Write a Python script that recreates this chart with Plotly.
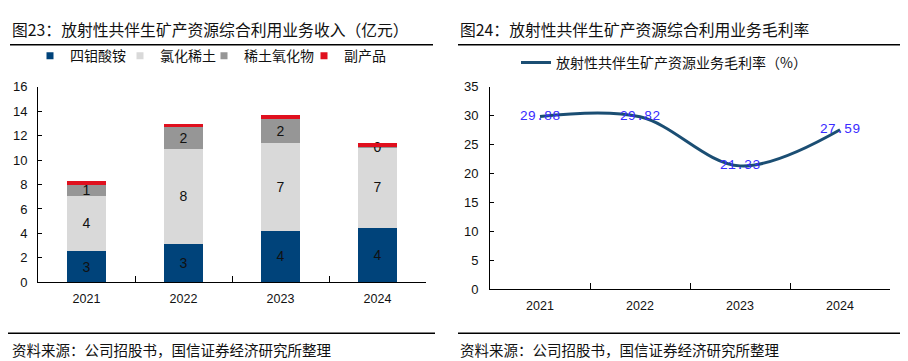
import plotly.graph_objects as go

W, H = 908, 361

# ---------------- data ----------------
years = ["2021", "2022", "2023", "2024"]
ammonium_tetramolybdate = [2.59, 3.14, 4.24, 4.47]
rare_earth_chloride = [4.47, 7.76, 7.13, 6.59]
rare_earth_oxide = [0.94, 1.80, 1.96, 0.03]
by_products = [0.31, 0.24, 0.32, 0.31]
series_names = ["四钼酸铵", "氯化稀土", "稀土氧化物", "副产品"]
series_colors = ["#00437A", "#D9D9D9", "#969696", "#E0101E"]
series_labelled = [True, True, True, False]

margin_rate = [29.88, 29.82, 21.33, 27.59]
margin_name = "放射性共伴生矿产资源业务毛利率（%）"

title_left = "图23：放射性共伴生矿产资源综合利用业务收入（亿元）"
title_right = "图24：放射性共伴生矿产资源综合利用业务毛利率"
source_text = "资料来源：公司招股书，国信证券经济研究所整理"

CJK = "Noto Sans CJK SC"
NUM = "Liberation Sans"


def px(x):
    return x / W


def py(y):
    return 1 - y / H


fig = go.Figure()

# ---------------- left: stacked bars ----------------
series_values = [ammonium_tetramolybdate, rare_earth_chloride, rare_earth_oxide, by_products]
legend_widths = [45, 39, 55, 46]
for name, vals, color, lab, lw in zip(series_names, series_values, series_colors,
                                      series_labelled, legend_widths):
    fig.add_trace(go.Bar(
        x=years, y=vals, name=name, marker=dict(color=color, line=dict(width=0)),
        texttemplate="%{y:.0f}" if lab else None,
        textposition="inside" if lab else "none",
        insidetextanchor="middle", constraintext="none", textangle=0,
        textfont=dict(family=NUM, size=14, color="#111111"),
        showlegend=False, xaxis="x", yaxis="y",
    ))
    # legend entry (square glyph)
    fig.add_trace(go.Scatter(
        x=[None], y=[None], mode="markers", name=name,
        marker=dict(symbol="square", size=7, color=color),
        legend="legend", legendwidth=lw, xaxis="x", yaxis="y",
    ))

# ---------------- right: smooth line ----------------
fig.add_trace(go.Scatter(
    x=years, y=margin_rate, name=margin_name, mode="lines+text",
    line=dict(shape="spline", smoothing=1.0, color="#1B4E73", width=3),
    text=[f"{v:.2f}" for v in margin_rate], textposition="middle center",
    textfont=dict(family="Liberation Mono", size=13.5, color="#3A2BFF"),
    legend="legend2", xaxis="x2", yaxis="y2",
))

axis_common = dict(showline=True, linecolor="#000000", linewidth=1, showgrid=False,
                   zeroline=False, ticks="inside", tickcolor="#000000", tickwidth=1)

fig.update_layout(
    width=W, height=H, autosize=False,
    margin=dict(l=0, r=0, t=0, b=0),
    paper_bgcolor="white", plot_bgcolor="white",
    bargap=0.6, barmode="stack",
    xaxis=dict(domain=[px(30), px(418)], type="category", range=[-0.5, 3.5],
               tickson="boundaries", ticklen=6, ticklabelstandoff=5,
               tickfont=dict(family=NUM, size=12.5, color="#111111"),
               anchor="y", **axis_common),
    yaxis=dict(domain=[py(279), py(74.7)], range=[0, 16], dtick=2, ticklen=4,
               ticklabelstandoff=7,
               tickfont=dict(family=NUM, size=13, color="#111111"),
               anchor="x", **axis_common),
    xaxis2=dict(domain=[px(482), px(882)], type="category", range=[-0.5, 3.5],
                tickson="boundaries", ticklen=6, ticklabelstandoff=5,
                tickfont=dict(family=NUM, size=12.5, color="#111111"),
                anchor="y2", **axis_common),
    yaxis2=dict(domain=[py(286), py(75)], range=[0, 35], dtick=5, ticklen=4,
                ticklabelstandoff=8,
                tickfont=dict(family=NUM, size=13, color="#111111"),
                anchor="x2", **axis_common),
    legend=dict(orientation="h", x=px(22), y=py(43), xanchor="left", yanchor="middle",
                traceorder="normal",
                font=dict(family=CJK, size=14, color="#111111"),
                bgcolor="rgba(0,0,0,0)", borderwidth=0, itemwidth=30),
    legend2=dict(orientation="h", x=px(508), y=py(50), xanchor="left", yanchor="middle",
                 font=dict(family=CJK, size=14, color="#111111"),
                 bgcolor="rgba(0,0,0,0)", borderwidth=0, itemwidth=30),
    showlegend=True,
)

# ---------------- titles, rules, sources ----------------
annos = [
    dict(text=title_left, x=px(2), y=py(15)),
    dict(text=title_right, x=px(450), y=py(15)),
]
for a in annos:
    fig.add_annotation(text=a["text"], x=a["x"], y=a["y"], xref="paper", yref="paper",
                       xanchor="left", yanchor="middle", showarrow=False,
                       font=dict(family=CJK, size=15.8, color="#111111"))
for sx in (2, 450):
    fig.add_annotation(text=source_text, x=px(sx), y=py(349), xref="paper", yref="paper",
                       xanchor="left", yanchor="middle", showarrow=False,
                       font=dict(family=CJK, size=14.5, color="#111111"))

for x0, x1 in ((2, 425), (450, 901)):
    fig.add_shape(type="line", xref="paper", yref="paper", x0=px(x0), x1=px(x1),
                  y0=py(31), y1=py(31), line=dict(color="#000000", width=1.5))
for x0, x1 in ((0, 427), (450, 905)):
    fig.add_shape(type="line", xref="paper", yref="paper", x0=px(x0), x1=px(x1),
                  y0=py(332), y1=py(332), line=dict(color="#000000", width=1.5))
fig.add_shape(type="line", xref="paper", yref="paper", x0=px(906.5), x1=px(906.5),
              y0=py(177), y1=py(204), line=dict(color="#8C8C8C", width=2))

fig.write_html("out.html")
